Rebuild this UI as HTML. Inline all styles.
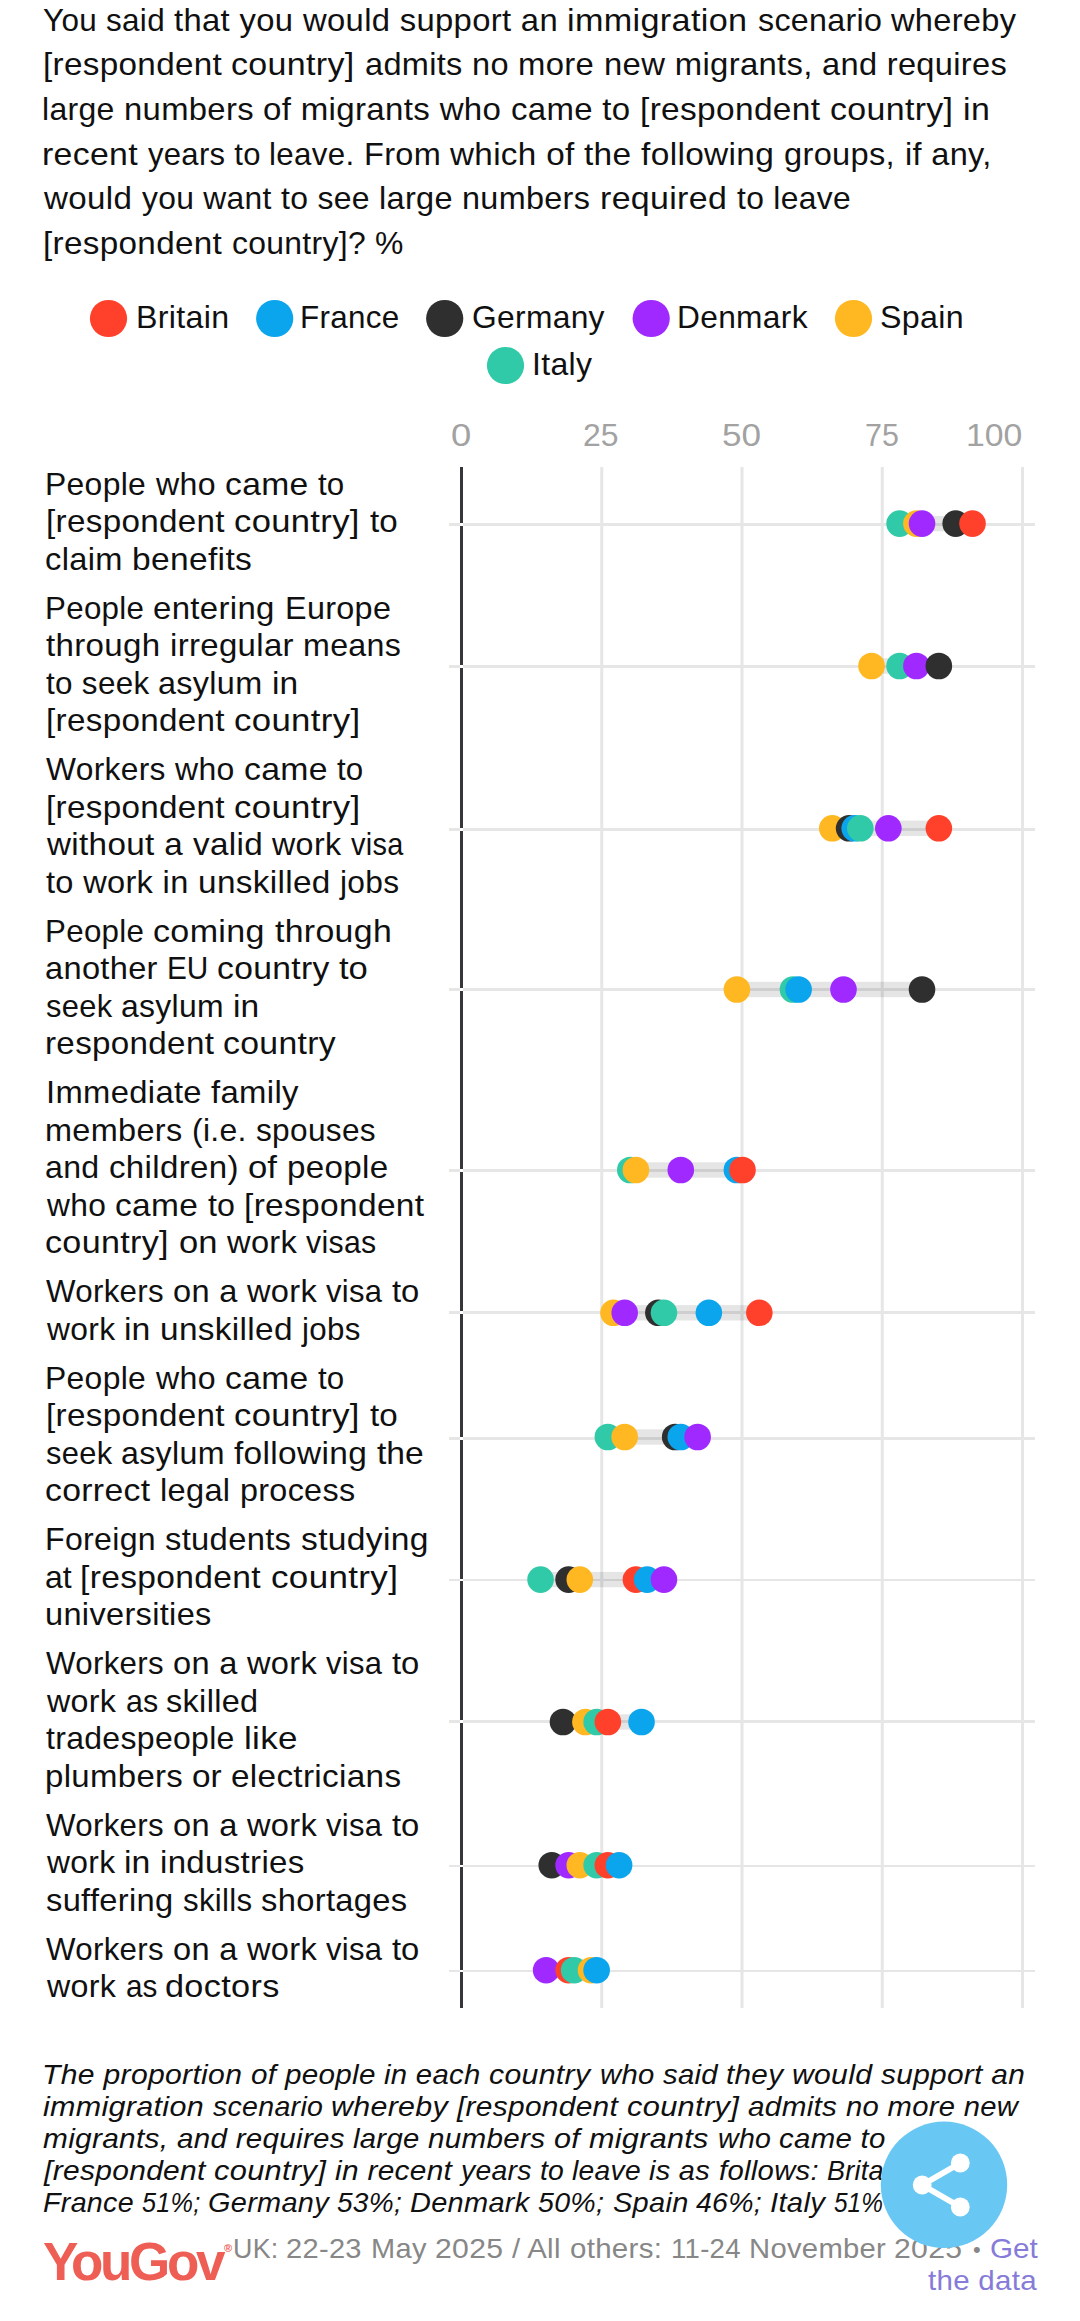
<!DOCTYPE html>
<html lang="en"><head><meta charset="utf-8"><title>YouGov chart</title>
<style>
html,body{margin:0;padding:0;background:#fff;}
body{width:1080px;height:2321px;position:relative;overflow:hidden;font-family:"Liberation Sans",sans-serif;}
.t{position:absolute;white-space:nowrap;line-height:1;transform-origin:0 0;}
svg.chart,svg.share{position:absolute;left:0;top:0;}
.reg{position:absolute;left:224px;top:2243px;font-size:11px;font-weight:700;line-height:1;color:#ee5e54;}
</style></head>
<body>
<svg class="chart" width="1080" height="2321" viewBox="0 0 1080 2321">
<rect x="600.25" y="467" width="3" height="1541" fill="#e6e6e6"/>
<rect x="740.50" y="467" width="3" height="1541" fill="#e6e6e6"/>
<rect x="880.75" y="467" width="3" height="1541" fill="#e6e6e6"/>
<rect x="1021.00" y="467" width="3" height="1541" fill="#e6e6e6"/>
<rect x="460" y="467" width="3" height="1541" fill="#35363a"/>
<rect x="449" y="523" width="586" height="3" fill="#e6e6e6"/>
<rect x="460" y="523" width="3" height="3" fill="#ffffff"/>
<rect x="449" y="665" width="586" height="3" fill="#e6e6e6"/>
<rect x="460" y="665" width="3" height="3" fill="#ffffff"/>
<rect x="449" y="828" width="586" height="3" fill="#e6e6e6"/>
<rect x="460" y="828" width="3" height="3" fill="#ffffff"/>
<rect x="449" y="988" width="586" height="3" fill="#e6e6e6"/>
<rect x="460" y="988" width="3" height="3" fill="#ffffff"/>
<rect x="449" y="1169" width="586" height="3" fill="#e6e6e6"/>
<rect x="460" y="1169" width="3" height="3" fill="#ffffff"/>
<rect x="449" y="1311" width="586" height="3" fill="#e6e6e6"/>
<rect x="460" y="1311" width="3" height="3" fill="#ffffff"/>
<rect x="449" y="1437" width="586" height="3" fill="#e6e6e6"/>
<rect x="460" y="1437" width="3" height="3" fill="#ffffff"/>
<rect x="449" y="1579" width="586" height="2" fill="#e6e6e6"/>
<rect x="460" y="1579" width="3" height="2" fill="#ffffff"/>
<rect x="449" y="1720" width="586" height="3" fill="#e6e6e6"/>
<rect x="460" y="1720" width="3" height="3" fill="#ffffff"/>
<rect x="449" y="1865" width="586" height="2" fill="#e6e6e6"/>
<rect x="460" y="1865" width="3" height="2" fill="#ffffff"/>
<rect x="449" y="1970" width="586" height="2" fill="#e6e6e6"/>
<rect x="460" y="1970" width="3" height="2" fill="#ffffff"/>
<rect x="899.58" y="515.90" width="72.93" height="15.4" fill="#000" fill-opacity="0.1"/>
<circle cx="899.58" cy="523.60" r="13.3" fill="#31caa8"/>
<circle cx="916.41" cy="523.60" r="13.3" fill="#ffb822"/>
<circle cx="922.02" cy="523.60" r="13.3" fill="#9f29ff"/>
<circle cx="955.68" cy="523.60" r="13.3" fill="#2f2f2f"/>
<circle cx="972.51" cy="523.60" r="13.3" fill="#ff412c"/>
<rect x="871.53" y="658.30" width="67.32" height="15.4" fill="#000" fill-opacity="0.1"/>
<circle cx="871.53" cy="666.00" r="13.3" fill="#ffb822"/>
<circle cx="899.58" cy="666.00" r="13.3" fill="#31caa8"/>
<circle cx="916.41" cy="666.00" r="13.3" fill="#9f29ff"/>
<circle cx="938.85" cy="666.00" r="13.3" fill="#2f2f2f"/>
<rect x="832.26" y="820.60" width="106.59" height="15.4" fill="#000" fill-opacity="0.1"/>
<circle cx="832.26" cy="828.30" r="13.3" fill="#ffb822"/>
<circle cx="849.09" cy="828.30" r="13.3" fill="#2f2f2f"/>
<circle cx="854.70" cy="828.30" r="13.3" fill="#0aa5ec"/>
<circle cx="860.31" cy="828.30" r="13.3" fill="#31caa8"/>
<circle cx="888.36" cy="828.30" r="13.3" fill="#9f29ff"/>
<circle cx="938.85" cy="828.30" r="13.3" fill="#ff412c"/>
<rect x="736.89" y="981.80" width="185.13" height="15.4" fill="#000" fill-opacity="0.1"/>
<circle cx="736.89" cy="989.50" r="13.3" fill="#ffb822"/>
<circle cx="792.99" cy="989.50" r="13.3" fill="#31caa8"/>
<circle cx="798.60" cy="989.50" r="13.3" fill="#0aa5ec"/>
<circle cx="843.48" cy="989.50" r="13.3" fill="#9f29ff"/>
<circle cx="922.02" cy="989.50" r="13.3" fill="#2f2f2f"/>
<rect x="630.30" y="1162.30" width="112.20" height="15.4" fill="#000" fill-opacity="0.1"/>
<circle cx="630.30" cy="1170.00" r="13.3" fill="#31caa8"/>
<circle cx="635.91" cy="1170.00" r="13.3" fill="#ffb822"/>
<circle cx="680.79" cy="1170.00" r="13.3" fill="#9f29ff"/>
<circle cx="736.89" cy="1170.00" r="13.3" fill="#0aa5ec"/>
<circle cx="742.50" cy="1170.00" r="13.3" fill="#ff412c"/>
<rect x="613.47" y="1305.10" width="145.86" height="15.4" fill="#000" fill-opacity="0.1"/>
<circle cx="613.47" cy="1312.80" r="13.3" fill="#ffb822"/>
<circle cx="624.69" cy="1312.80" r="13.3" fill="#9f29ff"/>
<circle cx="658.35" cy="1312.80" r="13.3" fill="#2f2f2f"/>
<circle cx="663.96" cy="1312.80" r="13.3" fill="#31caa8"/>
<circle cx="708.84" cy="1312.80" r="13.3" fill="#0aa5ec"/>
<circle cx="759.33" cy="1312.80" r="13.3" fill="#ff412c"/>
<rect x="607.86" y="1429.30" width="89.76" height="15.4" fill="#000" fill-opacity="0.1"/>
<circle cx="607.86" cy="1437.00" r="13.3" fill="#31caa8"/>
<circle cx="624.69" cy="1437.00" r="13.3" fill="#ffb822"/>
<circle cx="675.18" cy="1437.00" r="13.3" fill="#2f2f2f"/>
<circle cx="680.79" cy="1437.00" r="13.3" fill="#0aa5ec"/>
<circle cx="697.62" cy="1437.00" r="13.3" fill="#9f29ff"/>
<rect x="540.54" y="1571.90" width="123.42" height="15.4" fill="#000" fill-opacity="0.1"/>
<circle cx="540.54" cy="1579.60" r="13.3" fill="#31caa8"/>
<circle cx="568.59" cy="1579.60" r="13.3" fill="#2f2f2f"/>
<circle cx="579.81" cy="1579.60" r="13.3" fill="#ffb822"/>
<circle cx="635.91" cy="1579.60" r="13.3" fill="#ff412c"/>
<circle cx="647.13" cy="1579.60" r="13.3" fill="#0aa5ec"/>
<circle cx="663.96" cy="1579.60" r="13.3" fill="#9f29ff"/>
<rect x="562.98" y="1714.30" width="78.54" height="15.4" fill="#000" fill-opacity="0.1"/>
<circle cx="562.98" cy="1722.00" r="13.3" fill="#2f2f2f"/>
<circle cx="585.42" cy="1722.00" r="13.3" fill="#ffb822"/>
<circle cx="596.64" cy="1722.00" r="13.3" fill="#31caa8"/>
<circle cx="607.86" cy="1722.00" r="13.3" fill="#ff412c"/>
<circle cx="641.52" cy="1722.00" r="13.3" fill="#0aa5ec"/>
<rect x="551.76" y="1857.50" width="67.32" height="15.4" fill="#000" fill-opacity="0.1"/>
<circle cx="551.76" cy="1865.20" r="13.3" fill="#2f2f2f"/>
<circle cx="568.59" cy="1865.20" r="13.3" fill="#9f29ff"/>
<circle cx="579.81" cy="1865.20" r="13.3" fill="#ffb822"/>
<circle cx="596.64" cy="1865.20" r="13.3" fill="#31caa8"/>
<circle cx="607.86" cy="1865.20" r="13.3" fill="#ff412c"/>
<circle cx="619.08" cy="1865.20" r="13.3" fill="#0aa5ec"/>
<rect x="546.15" y="1962.50" width="50.49" height="15.4" fill="#000" fill-opacity="0.1"/>
<circle cx="546.15" cy="1970.20" r="13.3" fill="#9f29ff"/>
<circle cx="568.59" cy="1970.20" r="13.3" fill="#ff412c"/>
<circle cx="574.20" cy="1970.20" r="13.3" fill="#31caa8"/>
<circle cx="591.03" cy="1970.20" r="13.3" fill="#ffb822"/>
<circle cx="596.64" cy="1970.20" r="13.3" fill="#0aa5ec"/>
<circle cx="108.5" cy="318.5" r="18.6" fill="#ff412c"/>
<circle cx="274.7" cy="318.5" r="18.6" fill="#0aa5ec"/>
<circle cx="444.7" cy="318.5" r="18.6" fill="#2f2f2f"/>
<circle cx="651.2" cy="318.5" r="18.6" fill="#9f29ff"/>
<circle cx="853.5" cy="318.5" r="18.6" fill="#ffb822"/>
<circle cx="505.5" cy="365.5" r="18.6" fill="#31caa8"/>
</svg>
<span class="t" style="left:43.20px;top:4px;font-size:32px;letter-spacing:0.320px;color:#101010;transform:scaleX(0.9823);">You said </span>
<span class="t" style="left:174.20px;top:4px;font-size:32px;letter-spacing:0.320px;color:#101010;transform:scaleX(1.0246);">that you </span>
<span class="t" style="left:302.92px;top:4px;font-size:32px;letter-spacing:0.320px;color:#101010;transform:scaleX(1.0247);">would support an </span>
<span class="t" style="left:567.26px;top:4px;font-size:32px;letter-spacing:0.320px;color:#101010;transform:scaleX(1.0681);">immigration </span>
<span class="t" style="left:757.50px;top:4px;font-size:32px;letter-spacing:0.320px;color:#101010;transform:scaleX(1.0059);">scenario </span>
<span class="t" style="left:891.02px;top:4px;font-size:32px;letter-spacing:0.320px;color:#101010;transform:scaleX(1.0172);">whereby</span>
<span class="t" style="left:42.72px;top:48px;font-size:32px;letter-spacing:0.320px;color:#101010;transform:scaleX(1.0385);">[respondent </span>
<span class="t" style="left:231.44px;top:48px;font-size:32px;letter-spacing:0.320px;color:#101010;transform:scaleX(1.0613);">country] </span>
<span class="t" style="left:364.78px;top:48px;font-size:32px;letter-spacing:0.320px;color:#101010;transform:scaleX(1.0156);">admits no </span>
<span class="t" style="left:517.95px;top:48px;font-size:32px;letter-spacing:0.320px;color:#101010;transform:scaleX(1.0264);">more </span>
<span class="t" style="left:603.55px;top:48px;font-size:32px;letter-spacing:0.320px;color:#101010;transform:scaleX(1.0267);">new migrants, </span>
<span class="t" style="left:821.78px;top:48px;font-size:32px;letter-spacing:0.320px;color:#101010;transform:scaleX(1.0183);">and requires</span>
<span class="t" style="left:42.20px;top:93px;font-size:32px;letter-spacing:0.320px;color:#101010;transform:scaleX(0.9992);">large </span>
<span class="t" style="left:124.05px;top:93px;font-size:32px;letter-spacing:0.320px;color:#101010;transform:scaleX(1.0248);">numbers </span>
<span class="t" style="left:263.37px;top:93px;font-size:32px;letter-spacing:0.320px;color:#101010;transform:scaleX(1.0330);">of migrants who </span>
<span class="t" style="left:511.17px;top:93px;font-size:32px;letter-spacing:0.320px;color:#101010;transform:scaleX(1.0295);">came to </span>
<span class="t" style="left:640.11px;top:93px;font-size:32px;letter-spacing:0.320px;color:#101010;transform:scaleX(1.0451);">[respondent </span>
<span class="t" style="left:830.04px;top:93px;font-size:32px;letter-spacing:0.320px;color:#101010;transform:scaleX(1.0599);">country] in</span>
<span class="t" style="left:42.09px;top:138px;font-size:32px;letter-spacing:0.320px;color:#101010;transform:scaleX(1.0564);">recent </span>
<span class="t" style="left:147.80px;top:138px;font-size:32px;letter-spacing:0.320px;color:#101010;transform:scaleX(0.9687);">years to </span>
<span class="t" style="left:269.44px;top:138px;font-size:32px;letter-spacing:0.320px;color:#101010;transform:scaleX(0.9780);">leave. </span>
<span class="t" style="left:363.77px;top:138px;font-size:32px;letter-spacing:0.320px;color:#101010;transform:scaleX(1.0153);">From </span>
<span class="t" style="left:450.24px;top:138px;font-size:32px;letter-spacing:0.320px;color:#101010;transform:scaleX(1.0387);">which of </span>
<span class="t" style="left:584.40px;top:138px;font-size:32px;letter-spacing:0.320px;color:#101010;transform:scaleX(1.0449);">the following </span>
<span class="t" style="left:784.28px;top:138px;font-size:32px;letter-spacing:0.320px;color:#101010;transform:scaleX(1.0186);">groups, </span>
<span class="t" style="left:904.67px;top:138px;font-size:32px;letter-spacing:0.320px;color:#101010;transform:scaleX(1.0157);">if any,</span>
<span class="t" style="left:44.44px;top:182px;font-size:32px;letter-spacing:0.320px;color:#101010;transform:scaleX(1.0354);">would </span>
<span class="t" style="left:142.20px;top:182px;font-size:32px;letter-spacing:0.320px;color:#101010;transform:scaleX(0.9932);">you want </span>
<span class="t" style="left:281.10px;top:182px;font-size:32px;letter-spacing:0.320px;color:#101010;transform:scaleX(0.9970);">to see </span>
<span class="t" style="left:379.07px;top:182px;font-size:32px;letter-spacing:0.320px;color:#101010;transform:scaleX(1.0163);">large </span>
<span class="t" style="left:462.38px;top:182px;font-size:32px;letter-spacing:0.320px;color:#101010;transform:scaleX(1.0114);">numbers </span>
<span class="t" style="left:599.78px;top:182px;font-size:32px;letter-spacing:0.320px;color:#101010;transform:scaleX(1.0599);">required </span>
<span class="t" style="left:736.70px;top:182px;font-size:32px;letter-spacing:0.320px;color:#101010;transform:scaleX(0.9936);">to leave</span>
<span class="t" style="left:42.72px;top:227px;font-size:32px;letter-spacing:0.320px;color:#101010;transform:scaleX(1.0385);">[respondent </span>
<span class="t" style="left:231.50px;top:227px;font-size:32px;letter-spacing:0.320px;color:#101010;transform:scaleX(0.9958);">country]? %</span>
<span class="t" style="left:135.89px;top:301px;font-size:32px;letter-spacing:0.320px;color:#101010;transform:scaleX(1.0053);">Britain</span>
<span class="t" style="left:300.34px;top:301px;font-size:32px;letter-spacing:0.320px;color:#101010;transform:scaleX(0.9807);">France</span>
<span class="t" style="left:471.51px;top:301px;font-size:32px;letter-spacing:0.320px;color:#101010;transform:scaleX(0.9923);">Germany</span>
<span class="t" style="left:676.82px;top:301px;font-size:32px;letter-spacing:0.320px;color:#101010;transform:scaleX(0.9906);">Denmark</span>
<span class="t" style="left:880.49px;top:301px;font-size:32px;letter-spacing:0.320px;color:#101010;transform:scaleX(1.0059);">Spain</span>
<span class="t" style="left:532.10px;top:348px;font-size:32px;letter-spacing:0.320px;color:#101010;transform:scaleX(0.9988);">Italy</span>
<span class="t" style="left:451.06px;top:419px;font-size:32px;letter-spacing:0.000px;color:#a2a2a2;transform:scaleX(1.1375);">0</span>
<span class="t" style="left:583.40px;top:419px;font-size:32px;letter-spacing:0.000px;color:#a2a2a2;transform:scaleX(0.9971);">25</span>
<span class="t" style="left:721.60px;top:419px;font-size:32px;letter-spacing:0.000px;color:#a2a2a2;transform:scaleX(1.0977);">50</span>
<span class="t" style="left:865.25px;top:419px;font-size:32px;letter-spacing:0.000px;color:#a2a2a2;transform:scaleX(0.9498);">75</span>
<span class="t" style="left:965.69px;top:419px;font-size:32px;letter-spacing:0.000px;color:#a2a2a2;transform:scaleX(1.0535);">100</span>
<span class="t" style="left:45.21px;top:468px;font-size:32px;letter-spacing:0.320px;color:#101010;transform:scaleX(0.9956);">People </span>
<span class="t" style="left:155.50px;top:468px;font-size:32px;letter-spacing:0.320px;color:#101010;transform:scaleX(1.0032);">who </span>
<span class="t" style="left:224.55px;top:468px;font-size:32px;letter-spacing:0.320px;color:#101010;transform:scaleX(1.0508);">came </span>
<span class="t" style="left:317.80px;top:468px;font-size:32px;letter-spacing:0.000px;color:#101010;transform:scaleX(0.9772);">to</span>
<span class="t" style="left:45.53px;top:505px;font-size:32px;letter-spacing:0.320px;color:#101010;transform:scaleX(1.0368);">[respondent </span>
<span class="t" style="left:233.92px;top:505px;font-size:32px;letter-spacing:0.320px;color:#101010;transform:scaleX(1.0803);">country] </span>
<span class="t" style="left:369.60px;top:505px;font-size:32px;letter-spacing:0.000px;color:#101010;transform:scaleX(1.0351);">to</span>
<span class="t" style="left:44.98px;top:543px;font-size:32px;letter-spacing:0.320px;color:#101010;transform:scaleX(1.0199);">claim </span>
<span class="t" style="left:132.10px;top:543px;font-size:32px;letter-spacing:0.320px;color:#101010;transform:scaleX(1.0483);">benefits</span>
<span class="t" style="left:45.25px;top:592px;font-size:32px;letter-spacing:0.320px;color:#101010;transform:scaleX(0.9775);">People </span>
<span class="t" style="left:153.47px;top:592px;font-size:32px;letter-spacing:0.320px;color:#101010;transform:scaleX(1.0295);">entering </span>
<span class="t" style="left:284.68px;top:592px;font-size:32px;letter-spacing:0.320px;color:#101010;transform:scaleX(1.0109);">Europe</span>
<span class="t" style="left:46.00px;top:629px;font-size:32px;letter-spacing:0.320px;color:#101010;transform:scaleX(1.0329);">through </span>
<span class="t" style="left:169.94px;top:629px;font-size:32px;letter-spacing:0.320px;color:#101010;transform:scaleX(1.0304);">irregular </span>
<span class="t" style="left:303.39px;top:629px;font-size:32px;letter-spacing:0.320px;color:#101010;transform:scaleX(1.0061);">means</span>
<span class="t" style="left:46.00px;top:667px;font-size:32px;letter-spacing:0.320px;color:#101010;transform:scaleX(0.9816);">to seek </span>
<span class="t" style="left:158.49px;top:667px;font-size:32px;letter-spacing:0.320px;color:#101010;transform:scaleX(1.0115);">asylum </span>
<span class="t" style="left:272.21px;top:667px;font-size:32px;letter-spacing:0.000px;color:#101010;transform:scaleX(1.0469);">in</span>
<span class="t" style="left:45.53px;top:704px;font-size:32px;letter-spacing:0.320px;color:#101010;transform:scaleX(1.0368);">[respondent </span>
<span class="t" style="left:233.91px;top:704px;font-size:32px;letter-spacing:0.320px;color:#101010;transform:scaleX(1.0859);">country]</span>
<span class="t" style="left:46.00px;top:753px;font-size:32px;letter-spacing:0.320px;color:#101010;transform:scaleX(0.9916);">Workers </span>
<span class="t" style="left:174.90px;top:753px;font-size:32px;letter-spacing:0.320px;color:#101010;transform:scaleX(0.9990);">who </span>
<span class="t" style="left:243.64px;top:753px;font-size:32px;letter-spacing:0.320px;color:#101010;transform:scaleX(1.0554);">came </span>
<span class="t" style="left:337.30px;top:753px;font-size:32px;letter-spacing:0.000px;color:#101010;transform:scaleX(0.9772);">to</span>
<span class="t" style="left:45.53px;top:791px;font-size:32px;letter-spacing:0.320px;color:#101010;transform:scaleX(1.0368);">[respondent </span>
<span class="t" style="left:233.91px;top:791px;font-size:32px;letter-spacing:0.320px;color:#101010;transform:scaleX(1.0859);">country]</span>
<span class="t" style="left:47.04px;top:828px;font-size:32px;letter-spacing:0.320px;color:#101010;transform:scaleX(1.0385);">without a </span>
<span class="t" style="left:192.60px;top:828px;font-size:32px;letter-spacing:0.320px;color:#101010;transform:scaleX(1.0394);">valid </span>
<span class="t" style="left:272.21px;top:828px;font-size:32px;letter-spacing:0.320px;color:#101010;transform:scaleX(1.0082);">work </span>
<span class="t" style="left:350.90px;top:828px;font-size:32px;letter-spacing:0.320px;color:#101010;transform:scaleX(0.9041);">visa</span>
<span class="t" style="left:46.00px;top:866px;font-size:32px;letter-spacing:0.320px;color:#101010;transform:scaleX(1.0175);">to work in </span>
<span class="t" style="left:197.92px;top:866px;font-size:32px;letter-spacing:0.320px;color:#101010;transform:scaleX(1.0419);">unskilled </span>
<span class="t" style="left:340.19px;top:866px;font-size:32px;letter-spacing:0.320px;color:#101010;transform:scaleX(0.9906);">jobs</span>
<span class="t" style="left:45.25px;top:915px;font-size:32px;letter-spacing:0.320px;color:#101010;transform:scaleX(0.9775);">People </span>
<span class="t" style="left:153.44px;top:915px;font-size:32px;letter-spacing:0.320px;color:#101010;transform:scaleX(1.0637);">coming </span>
<span class="t" style="left:275.00px;top:915px;font-size:32px;letter-spacing:0.320px;color:#101010;transform:scaleX(1.0566);">through</span>
<span class="t" style="left:44.98px;top:952px;font-size:32px;letter-spacing:0.320px;color:#101010;transform:scaleX(1.0183);">another </span>
<span class="t" style="left:167.34px;top:952px;font-size:32px;letter-spacing:0.000px;color:#101010;transform:scaleX(0.9304);">EU </span>
<span class="t" style="left:216.85px;top:952px;font-size:32px;letter-spacing:0.320px;color:#101010;transform:scaleX(1.0512);">country </span>
<span class="t" style="left:339.20px;top:952px;font-size:32px;letter-spacing:0.000px;color:#101010;transform:scaleX(1.0815);">to</span>
<span class="t" style="left:46.00px;top:990px;font-size:32px;letter-spacing:0.320px;color:#101010;transform:scaleX(0.9635);">seek </span>
<span class="t" style="left:121.20px;top:990px;font-size:32px;letter-spacing:0.320px;color:#101010;transform:scaleX(0.9974);">asylum </span>
<span class="t" style="left:233.31px;top:990px;font-size:32px;letter-spacing:0.000px;color:#101010;transform:scaleX(1.0469);">in</span>
<span class="t" style="left:44.73px;top:1027px;font-size:32px;letter-spacing:0.320px;color:#101010;transform:scaleX(1.0359);">respondent </span>
<span class="t" style="left:223.45px;top:1027px;font-size:32px;letter-spacing:0.320px;color:#101010;transform:scaleX(1.0542);">country</span>
<span class="t" style="left:45.55px;top:1076px;font-size:32px;letter-spacing:0.320px;color:#101010;transform:scaleX(1.0239);">Immediate </span>
<span class="t" style="left:210.90px;top:1076px;font-size:32px;letter-spacing:0.320px;color:#101010;transform:scaleX(1.0274);">family</span>
<span class="t" style="left:44.77px;top:1114px;font-size:32px;letter-spacing:0.320px;color:#101010;transform:scaleX(1.0138);">members </span>
<span class="t" style="left:191.60px;top:1114px;font-size:32px;letter-spacing:0.320px;color:#101010;transform:scaleX(0.9976);">(i.e. </span>
<span class="t" style="left:255.60px;top:1114px;font-size:32px;letter-spacing:0.320px;color:#101010;transform:scaleX(0.9874);">spouses</span>
<span class="t" style="left:45.00px;top:1151px;font-size:32px;letter-spacing:0.320px;color:#101010;transform:scaleX(1.0022);">and </span>
<span class="t" style="left:108.67px;top:1151px;font-size:32px;letter-spacing:0.320px;color:#101010;transform:scaleX(1.0333);">children) </span>
<span class="t" style="left:247.91px;top:1151px;font-size:32px;letter-spacing:0.000px;color:#101010;transform:scaleX(1.0853);">of </span>
<span class="t" style="left:286.63px;top:1151px;font-size:32px;letter-spacing:0.320px;color:#101010;transform:scaleX(1.0359);">people</span>
<span class="t" style="left:46.99px;top:1189px;font-size:32px;letter-spacing:0.320px;color:#101010;transform:scaleX(0.9919);">who </span>
<span class="t" style="left:115.25px;top:1189px;font-size:32px;letter-spacing:0.320px;color:#101010;transform:scaleX(1.0463);">came </span>
<span class="t" style="left:208.10px;top:1189px;font-size:32px;letter-spacing:0.000px;color:#101010;transform:scaleX(1.0059);">to </span>
<span class="t" style="left:243.81px;top:1189px;font-size:32px;letter-spacing:0.320px;color:#101010;transform:scaleX(1.0456);">[respondent</span>
<span class="t" style="left:44.94px;top:1226px;font-size:32px;letter-spacing:0.320px;color:#101010;transform:scaleX(1.0645);">country] </span>
<span class="t" style="left:178.62px;top:1226px;font-size:32px;letter-spacing:0.000px;color:#101010;transform:scaleX(1.0804);">on </span>
<span class="t" style="left:226.62px;top:1226px;font-size:32px;letter-spacing:0.320px;color:#101010;transform:scaleX(1.0196);">work </span>
<span class="t" style="left:306.20px;top:1226px;font-size:32px;letter-spacing:0.320px;color:#101010;transform:scaleX(0.9455);">visas</span>
<span class="t" style="left:46.00px;top:1275px;font-size:32px;letter-spacing:0.320px;color:#101010;transform:scaleX(0.9765);">Workers </span>
<span class="t" style="left:172.88px;top:1275px;font-size:32px;letter-spacing:0.320px;color:#101010;transform:scaleX(1.0174);">on a </span>
<span class="t" style="left:246.92px;top:1275px;font-size:32px;letter-spacing:0.320px;color:#101010;transform:scaleX(1.0183);">work </span>
<span class="t" style="left:326.40px;top:1275px;font-size:32px;letter-spacing:0.320px;color:#101010;transform:scaleX(0.9689);">visa </span>
<span class="t" style="left:391.70px;top:1275px;font-size:32px;letter-spacing:0.000px;color:#101010;transform:scaleX(1.0235);">to</span>
<span class="t" style="left:46.99px;top:1313px;font-size:32px;letter-spacing:0.320px;color:#101010;transform:scaleX(0.9932);">work </span>
<span class="t" style="left:124.39px;top:1313px;font-size:32px;letter-spacing:0.000px;color:#101010;transform:scaleX(1.0563);">in </span>
<span class="t" style="left:160.11px;top:1313px;font-size:32px;letter-spacing:0.320px;color:#101010;transform:scaleX(1.0426);">unskilled </span>
<span class="t" style="left:302.48px;top:1313px;font-size:32px;letter-spacing:0.320px;color:#101010;transform:scaleX(0.9772);">jobs</span>
<span class="t" style="left:45.21px;top:1362px;font-size:32px;letter-spacing:0.320px;color:#101010;transform:scaleX(0.9956);">People </span>
<span class="t" style="left:155.50px;top:1362px;font-size:32px;letter-spacing:0.320px;color:#101010;transform:scaleX(1.0032);">who </span>
<span class="t" style="left:224.55px;top:1362px;font-size:32px;letter-spacing:0.320px;color:#101010;transform:scaleX(1.0508);">came </span>
<span class="t" style="left:317.80px;top:1362px;font-size:32px;letter-spacing:0.000px;color:#101010;transform:scaleX(0.9772);">to</span>
<span class="t" style="left:45.53px;top:1399px;font-size:32px;letter-spacing:0.320px;color:#101010;transform:scaleX(1.0368);">[respondent </span>
<span class="t" style="left:233.92px;top:1399px;font-size:32px;letter-spacing:0.320px;color:#101010;transform:scaleX(1.0803);">country] </span>
<span class="t" style="left:369.60px;top:1399px;font-size:32px;letter-spacing:0.000px;color:#101010;transform:scaleX(1.0351);">to</span>
<span class="t" style="left:46.00px;top:1437px;font-size:32px;letter-spacing:0.320px;color:#101010;transform:scaleX(0.9635);">seek </span>
<span class="t" style="left:121.20px;top:1437px;font-size:32px;letter-spacing:0.320px;color:#101010;transform:scaleX(1.0046);">asylum </span>
<span class="t" style="left:234.20px;top:1437px;font-size:32px;letter-spacing:0.320px;color:#101010;transform:scaleX(1.0446);">following </span>
<span class="t" style="left:376.90px;top:1437px;font-size:32px;letter-spacing:0.000px;color:#101010;transform:scaleX(1.0506);">the</span>
<span class="t" style="left:44.95px;top:1474px;font-size:32px;letter-spacing:0.320px;color:#101010;transform:scaleX(1.0540);">correct </span>
<span class="t" style="left:160.16px;top:1474px;font-size:32px;letter-spacing:0.320px;color:#101010;transform:scaleX(1.0176);">legal </span>
<span class="t" style="left:239.98px;top:1474px;font-size:32px;letter-spacing:0.320px;color:#101010;transform:scaleX(1.0093);">process</span>
<span class="t" style="left:45.20px;top:1523px;font-size:32px;letter-spacing:0.320px;color:#101010;transform:scaleX(1.0021);">Foreign </span>
<span class="t" style="left:165.40px;top:1523px;font-size:32px;letter-spacing:0.320px;color:#101010;transform:scaleX(1.0223);">students </span>
<span class="t" style="left:301.10px;top:1523px;font-size:32px;letter-spacing:0.320px;color:#101010;transform:scaleX(1.0499);">studying</span>
<span class="t" style="left:45.00px;top:1561px;font-size:32px;letter-spacing:0.000px;color:#101010;transform:scaleX(0.9979);">at </span>
<span class="t" style="left:80.40px;top:1561px;font-size:32px;letter-spacing:0.320px;color:#101010;transform:scaleX(1.0479);">[respondent </span>
<span class="t" style="left:270.81px;top:1561px;font-size:32px;letter-spacing:0.320px;color:#101010;transform:scaleX(1.0930);">country]</span>
<span class="t" style="left:44.77px;top:1598px;font-size:32px;letter-spacing:0.320px;color:#101010;transform:scaleX(1.0169);">universities</span>
<span class="t" style="left:46.00px;top:1647px;font-size:32px;letter-spacing:0.320px;color:#101010;transform:scaleX(0.9765);">Workers </span>
<span class="t" style="left:172.88px;top:1647px;font-size:32px;letter-spacing:0.320px;color:#101010;transform:scaleX(1.0174);">on a </span>
<span class="t" style="left:246.92px;top:1647px;font-size:32px;letter-spacing:0.320px;color:#101010;transform:scaleX(1.0183);">work </span>
<span class="t" style="left:326.40px;top:1647px;font-size:32px;letter-spacing:0.320px;color:#101010;transform:scaleX(0.9689);">visa </span>
<span class="t" style="left:391.70px;top:1647px;font-size:32px;letter-spacing:0.000px;color:#101010;transform:scaleX(1.0235);">to</span>
<span class="t" style="left:47.01px;top:1685px;font-size:32px;letter-spacing:0.320px;color:#101010;transform:scaleX(1.0056);">work </span>
<span class="t" style="left:125.55px;top:1685px;font-size:32px;letter-spacing:0.000px;color:#101010;transform:scaleX(0.9499);">as </span>
<span class="t" style="left:166.10px;top:1685px;font-size:32px;letter-spacing:0.320px;color:#101010;transform:scaleX(1.0141);">skilled</span>
<span class="t" style="left:46.00px;top:1722px;font-size:32px;letter-spacing:0.320px;color:#101010;transform:scaleX(0.9991);">tradespeople </span>
<span class="t" style="left:243.71px;top:1722px;font-size:32px;letter-spacing:0.320px;color:#101010;transform:scaleX(1.0936);">like</span>
<span class="t" style="left:44.74px;top:1760px;font-size:32px;letter-spacing:0.320px;color:#101010;transform:scaleX(1.0296);">plumbers </span>
<span class="t" style="left:192.36px;top:1760px;font-size:32px;letter-spacing:0.000px;color:#101010;transform:scaleX(1.0417);">or </span>
<span class="t" style="left:231.26px;top:1760px;font-size:32px;letter-spacing:0.320px;color:#101010;transform:scaleX(1.0397);">electricians</span>
<span class="t" style="left:46.00px;top:1809px;font-size:32px;letter-spacing:0.320px;color:#101010;transform:scaleX(0.9765);">Workers </span>
<span class="t" style="left:172.88px;top:1809px;font-size:32px;letter-spacing:0.320px;color:#101010;transform:scaleX(1.0174);">on a </span>
<span class="t" style="left:246.92px;top:1809px;font-size:32px;letter-spacing:0.320px;color:#101010;transform:scaleX(1.0183);">work </span>
<span class="t" style="left:326.40px;top:1809px;font-size:32px;letter-spacing:0.320px;color:#101010;transform:scaleX(0.9689);">visa </span>
<span class="t" style="left:391.70px;top:1809px;font-size:32px;letter-spacing:0.000px;color:#101010;transform:scaleX(1.0235);">to</span>
<span class="t" style="left:46.99px;top:1846px;font-size:32px;letter-spacing:0.320px;color:#101010;transform:scaleX(0.9932);">work </span>
<span class="t" style="left:124.39px;top:1846px;font-size:32px;letter-spacing:0.000px;color:#101010;transform:scaleX(1.0563);">in </span>
<span class="t" style="left:160.14px;top:1846px;font-size:32px;letter-spacing:0.320px;color:#101010;transform:scaleX(1.0319);">industries</span>
<span class="t" style="left:46.00px;top:1884px;font-size:32px;letter-spacing:0.320px;color:#101010;transform:scaleX(1.0198);">suffering </span>
<span class="t" style="left:182.90px;top:1884px;font-size:32px;letter-spacing:0.320px;color:#101010;transform:scaleX(0.9757);">skills </span>
<span class="t" style="left:261.40px;top:1884px;font-size:32px;letter-spacing:0.320px;color:#101010;transform:scaleX(1.0212);">shortages</span>
<span class="t" style="left:46.00px;top:1933px;font-size:32px;letter-spacing:0.320px;color:#101010;transform:scaleX(0.9765);">Workers </span>
<span class="t" style="left:172.88px;top:1933px;font-size:32px;letter-spacing:0.320px;color:#101010;transform:scaleX(1.0174);">on a </span>
<span class="t" style="left:246.92px;top:1933px;font-size:32px;letter-spacing:0.320px;color:#101010;transform:scaleX(1.0183);">work </span>
<span class="t" style="left:326.40px;top:1933px;font-size:32px;letter-spacing:0.320px;color:#101010;transform:scaleX(0.9689);">visa </span>
<span class="t" style="left:391.70px;top:1933px;font-size:32px;letter-spacing:0.000px;color:#101010;transform:scaleX(1.0235);">to</span>
<span class="t" style="left:47.01px;top:1970px;font-size:32px;letter-spacing:0.320px;color:#101010;transform:scaleX(1.0056);">work </span>
<span class="t" style="left:125.57px;top:1970px;font-size:32px;letter-spacing:0.000px;color:#101010;transform:scaleX(0.9277);">as </span>
<span class="t" style="left:165.03px;top:1970px;font-size:32px;letter-spacing:0.320px;color:#101010;transform:scaleX(1.0691);">doctors</span>
<span class="t" style="left:42.25px;top:2061px;font-size:28px;letter-spacing:0.280px;color:#101010;transform:scaleX(1.0761);font-style:italic;">The proportion </span>
<span class="t" style="left:251.10px;top:2061px;font-size:28px;letter-spacing:0.280px;color:#101010;transform:scaleX(1.0597);font-style:italic;">of people </span>
<span class="t" style="left:384.40px;top:2061px;font-size:28px;letter-spacing:0.280px;color:#101010;transform:scaleX(1.0468);font-style:italic;">in each </span>
<span class="t" style="left:489.40px;top:2061px;font-size:28px;letter-spacing:0.280px;color:#101010;transform:scaleX(1.0813);font-style:italic;">country </span>
<span class="t" style="left:599.55px;top:2061px;font-size:28px;letter-spacing:0.280px;color:#101010;transform:scaleX(1.0455);font-style:italic;">who said </span>
<span class="t" style="left:725.84px;top:2061px;font-size:28px;letter-spacing:0.280px;color:#101010;transform:scaleX(1.0611);font-style:italic;">they </span>
<span class="t" style="left:791.72px;top:2061px;font-size:28px;letter-spacing:0.280px;color:#101010;transform:scaleX(1.0757);font-style:italic;">would </span>
<span class="t" style="left:880.60px;top:2061px;font-size:28px;letter-spacing:0.280px;color:#101010;transform:scaleX(1.0666);font-style:italic;">support an</span>
<span class="t" style="left:43.40px;top:2093px;font-size:28px;letter-spacing:0.280px;color:#101010;transform:scaleX(1.0889);font-style:italic;">immigration </span>
<span class="t" style="left:213.10px;top:2093px;font-size:28px;letter-spacing:0.280px;color:#101010;transform:scaleX(1.0194);font-style:italic;">scenario </span>
<span class="t" style="left:331.41px;top:2093px;font-size:28px;letter-spacing:0.280px;color:#101010;transform:scaleX(1.0856);font-style:italic;">whereby </span>
<span class="t" style="left:457.17px;top:2093px;font-size:28px;letter-spacing:0.280px;color:#101010;transform:scaleX(1.0673);font-style:italic;">[respondent </span>
<span class="t" style="left:626.90px;top:2093px;font-size:28px;letter-spacing:0.280px;color:#101010;transform:scaleX(1.1001);font-style:italic;">country] </span>
<span class="t" style="left:747.80px;top:2093px;font-size:28px;letter-spacing:0.280px;color:#101010;transform:scaleX(1.0606);font-style:italic;">admits </span>
<span class="t" style="left:845.60px;top:2093px;font-size:28px;letter-spacing:0.280px;color:#101010;transform:scaleX(1.0436);font-style:italic;">no more new</span>
<span class="t" style="left:43.00px;top:2125px;font-size:28px;letter-spacing:0.280px;color:#101010;transform:scaleX(1.0650);font-style:italic;">migrants, </span>
<span class="t" style="left:176.90px;top:2125px;font-size:28px;letter-spacing:0.280px;color:#101010;transform:scaleX(1.0558);font-style:italic;">and requires </span>
<span class="t" style="left:353.30px;top:2125px;font-size:28px;letter-spacing:0.280px;color:#101010;transform:scaleX(1.0457);font-style:italic;">large </span>
<span class="t" style="left:428.30px;top:2125px;font-size:28px;letter-spacing:0.280px;color:#101010;transform:scaleX(1.0584);font-style:italic;">numbers </span>
<span class="t" style="left:554.20px;top:2125px;font-size:28px;letter-spacing:0.280px;color:#101010;transform:scaleX(1.0927);font-style:italic;">of migrants </span>
<span class="t" style="left:717.78px;top:2125px;font-size:28px;letter-spacing:0.280px;color:#101010;transform:scaleX(1.0192);font-style:italic;">who </span>
<span class="t" style="left:779.20px;top:2125px;font-size:28px;letter-spacing:0.280px;color:#101010;transform:scaleX(1.0506);font-style:italic;">came to</span>
<span class="t" style="left:44.07px;top:2157px;font-size:28px;letter-spacing:0.280px;color:#101010;transform:scaleX(1.0711);font-style:italic;">[respondent </span>
<span class="t" style="left:214.40px;top:2157px;font-size:28px;letter-spacing:0.280px;color:#101010;transform:scaleX(1.1001);font-style:italic;">country] </span>
<span class="t" style="left:335.30px;top:2157px;font-size:28px;letter-spacing:0.280px;color:#101010;transform:scaleX(1.0658);font-style:italic;">in recent </span>
<span class="t" style="left:460.93px;top:2157px;font-size:28px;letter-spacing:0.280px;color:#101010;transform:scaleX(1.0125);font-style:italic;">years to </span>
<span class="t" style="left:572.20px;top:2157px;font-size:28px;letter-spacing:0.280px;color:#101010;transform:scaleX(1.0079);font-style:italic;">leave </span>
<span class="t" style="left:649.20px;top:2157px;font-size:28px;letter-spacing:0.280px;color:#101010;transform:scaleX(1.0338);font-style:italic;">is as </span>
<span class="t" style="left:718.50px;top:2157px;font-size:28px;letter-spacing:0.280px;color:#101010;transform:scaleX(1.0457);font-style:italic;">follows: </span>
<span class="t" style="left:826.90px;top:2157px;font-size:28px;letter-spacing:0.280px;color:#101010;transform:scaleX(0.9652);font-style:italic;">Britain 45%;</span>
<span class="t" style="left:43.00px;top:2189px;font-size:28px;letter-spacing:0.280px;color:#101010;transform:scaleX(1.0239);font-style:italic;">France </span>
<span class="t" style="left:142.20px;top:2189px;font-size:28px;letter-spacing:0.280px;color:#101010;transform:scaleX(0.9014);font-style:italic;">51%; </span>
<span class="t" style="left:207.87px;top:2189px;font-size:28px;letter-spacing:0.280px;color:#101010;transform:scaleX(1.0333);font-style:italic;">Germany </span>
<span class="t" style="left:337.20px;top:2189px;font-size:28px;letter-spacing:0.280px;color:#101010;transform:scaleX(1.0014);font-style:italic;">53%; </span>
<span class="t" style="left:410.30px;top:2189px;font-size:28px;letter-spacing:0.280px;color:#101010;transform:scaleX(1.0339);font-style:italic;">Denmark </span>
<span class="t" style="left:538.10px;top:2189px;font-size:28px;letter-spacing:0.280px;color:#101010;transform:scaleX(1.0192);font-style:italic;">50%; </span>
<span class="t" style="left:612.50px;top:2189px;font-size:28px;letter-spacing:0.280px;color:#101010;transform:scaleX(1.0349);font-style:italic;">Spain </span>
<span class="t" style="left:696.40px;top:2189px;font-size:28px;letter-spacing:0.280px;color:#101010;transform:scaleX(1.0135);font-style:italic;">46%; </span>
<span class="t" style="left:770.36px;top:2189px;font-size:28px;letter-spacing:0.280px;color:#101010;transform:scaleX(1.0450);font-style:italic;">Italy </span>
<span class="t" style="left:833.90px;top:2189px;font-size:28px;letter-spacing:0.000px;color:#101010;transform:scaleX(0.8723);font-style:italic;">51%</span>
<span class="t" style="left:233.18px;top:2235px;font-size:28px;letter-spacing:0.280px;color:#878787;transform:scaleX(0.9583);">UK: </span>
<span class="t" style="left:286.36px;top:2235px;font-size:28px;letter-spacing:0.280px;color:#878787;transform:scaleX(1.0381);">22-23 </span>
<span class="t" style="left:370.53px;top:2235px;font-size:28px;letter-spacing:0.280px;color:#878787;transform:scaleX(1.0363);">May </span>
<span class="t" style="left:434.52px;top:2235px;font-size:28px;letter-spacing:0.280px;color:#878787;transform:scaleX(1.0771);">2025 </span>
<span class="t" style="left:511.50px;top:2235px;font-size:28px;letter-spacing:0.280px;color:#878787;transform:scaleX(1.0466);">/ All </span>
<span class="t" style="left:570.25px;top:2235px;font-size:28px;letter-spacing:0.280px;color:#878787;transform:scaleX(1.0526);">others: </span>
<span class="t" style="left:671.03px;top:2235px;font-size:28px;letter-spacing:0.280px;color:#878787;transform:scaleX(0.9836);">11-24 </span>
<span class="t" style="left:748.61px;top:2235px;font-size:28px;letter-spacing:0.280px;color:#878787;transform:scaleX(1.0436);">November </span>
<span class="t" style="left:894.12px;top:2235px;font-size:28px;letter-spacing:0.280px;color:#878787;transform:scaleX(1.0771);">2025</span>
<span class="t" style="left:973.00px;top:2239px;font-size:22px;letter-spacing:0.000px;color:#878787;transform:scaleX(1.0000);">•</span>
<span class="t" style="left:989.54px;top:2235px;font-size:28px;letter-spacing:0.000px;color:#867bd9;transform:scaleX(1.0575);">Get</span>
<span class="t" style="left:927.50px;top:2267px;font-size:28px;letter-spacing:0.280px;color:#867bd9;transform:scaleX(1.0523);">the data</span>
<span class="t" style="left:43.00px;top:2235px;font-size:53px;letter-spacing:-3.353px;color:#ee5e54;transform:scaleX(1.0000);font-weight:700;">YouGov</span>
<span class="reg">&reg;</span>
<svg class="share" width="1080" height="2321" viewBox="0 0 1080 2321">
<circle cx="944" cy="2184.8" r="63.2" fill="#68c8f3"/>
<path d="M960.3 2163 L922.2 2185 L960.3 2207" fill="none" stroke="#fff" stroke-width="6" stroke-linejoin="round"/>
<circle cx="960.3" cy="2163" r="9.4" fill="#fff"/>
<circle cx="922.2" cy="2185" r="9.4" fill="#fff"/>
<circle cx="960.3" cy="2207" r="9.4" fill="#fff"/>
</svg>
</body></html>
